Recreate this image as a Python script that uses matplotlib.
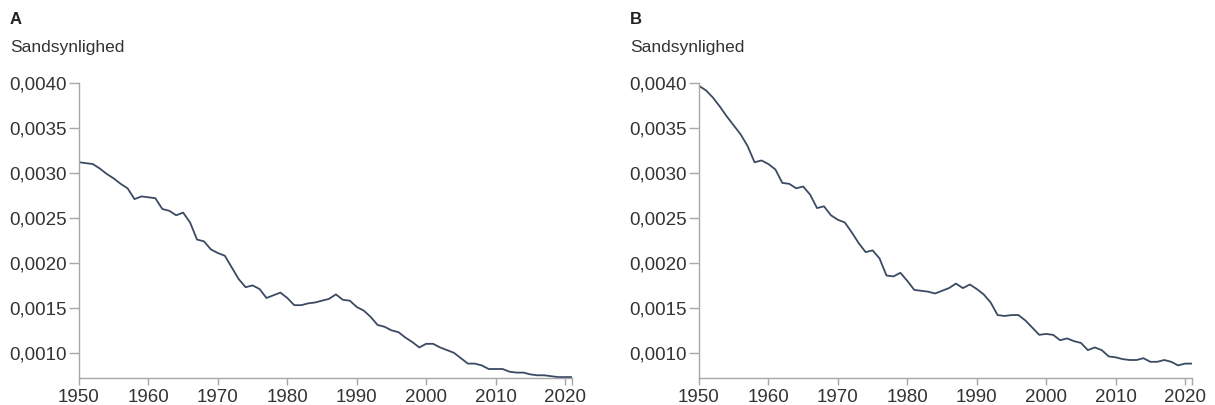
import matplotlib.pyplot as plt
from matplotlib.ticker import FuncFormatter

plt.rcParams['font.family'] = ['Liberation Sans', 'DejaVu Sans']

years = list(range(1950, 2022))

# panel A
prob_a = [0.00312, 0.00311, 0.00310, 0.00305, 0.00299, 0.00294, 0.00288, 0.00283, 0.00271, 0.00274,
          0.00273, 0.00272, 0.00260, 0.00258, 0.00253, 0.00256, 0.00245, 0.00226, 0.00224, 0.00215,
          0.00211, 0.00208, 0.00195, 0.00182, 0.00173, 0.00175, 0.00171, 0.00161, 0.00164, 0.00167,
          0.00161, 0.00153, 0.00153, 0.00155, 0.00156, 0.00158, 0.00160, 0.00165, 0.00159, 0.00158,
          0.00151, 0.00147, 0.00140, 0.00131, 0.00129, 0.00125, 0.00123, 0.00117, 0.00112, 0.00106,
          0.00110, 0.00110, 0.00106, 0.00103, 0.00100, 0.00094, 0.00088, 0.00088, 0.00086, 0.00082,
          0.00082, 0.00082, 0.00079, 0.00078, 0.00078, 0.00076, 0.00075, 0.00075, 0.00074, 0.00073,
          0.00073, 0.00073]

# panel B
prob_b = [0.00397, 0.00392, 0.00384, 0.00374, 0.00363, 0.00353, 0.00343, 0.00330, 0.00312, 0.00314,
          0.00310, 0.00304, 0.00289, 0.00288, 0.00283, 0.00285, 0.00276, 0.00261, 0.00263, 0.00253,
          0.00248, 0.00245, 0.00234, 0.00222, 0.00212, 0.00214, 0.00205, 0.00186, 0.00185, 0.00189,
          0.00180, 0.00170, 0.00169, 0.00168, 0.00166, 0.00169, 0.00172, 0.00177, 0.00172, 0.00176,
          0.00171, 0.00165, 0.00156, 0.00142, 0.00141, 0.00142, 0.00142, 0.00136, 0.00128, 0.00120,
          0.00121, 0.00120, 0.00114, 0.00116, 0.00113, 0.00111, 0.00103, 0.00106, 0.00103, 0.00096,
          0.00095, 0.00093, 0.00092, 0.00092, 0.00094, 0.00090, 0.00090, 0.00092, 0.00090, 0.00086,
          0.00088, 0.00088]

panels = ['A', 'B']
y_ticks = [0.0010, 0.0015, 0.0020, 0.0025, 0.0030, 0.0035, 0.0040]
x_ticks = [1950, 1960, 1970, 1980, 1990, 2000, 2010, 2020]

line_color = '#3b4a63'
axis_color = '#a8a8a8'
text_color = '#333333'

fig = plt.figure(figsize=(12.15, 4.05), dpi=100)
ymin = 0.00072

for i, (label, data) in enumerate(zip(panels, [prob_a, prob_b])):
    left = [0.065, 0.5753][i]
    ax = fig.add_axes([left, 0.0667, 0.4058, 0.728])
    ax.plot(years, data, color=line_color, lw=1.3, solid_joinstyle='round')
    ax.set_xlim(1950, 2021)
    ax.set_ylim(ymin, 0.0040)
    ax.set_xticks(x_ticks)
    ax.set_xticks([2021], minor=True)
    ax.set_yticks(y_ticks)
    ax.yaxis.set_major_formatter(FuncFormatter(lambda v, p: f'{v:.4f}'.replace('.', ',')))
    for s in ['top', 'right']:
        ax.spines[s].set_visible(False)
    for s in ['left', 'bottom']:
        ax.spines[s].set_color(axis_color)
        ax.spines[s].set_linewidth(1.0)
    ax.tick_params(axis='y', colors=axis_color, length=7, width=1.0,
                   labelcolor=text_color, labelsize=13.5, pad=2)
    ax.tick_params(axis='x', which='both', colors=axis_color, length=5, width=1.0,
                   labelcolor=text_color, labelsize=13.5, pad=3)
    fig.text(left - 0.057, 0.953, label, fontsize=12, fontweight='bold', color='#222222',
             ha='left', va='center')
    fig.text(left - 0.057, 0.882, 'Sandsynlighed', fontsize=12.5, color=text_color,
             ha='left', va='center')

fig.savefig('out.png', dpi=100)
